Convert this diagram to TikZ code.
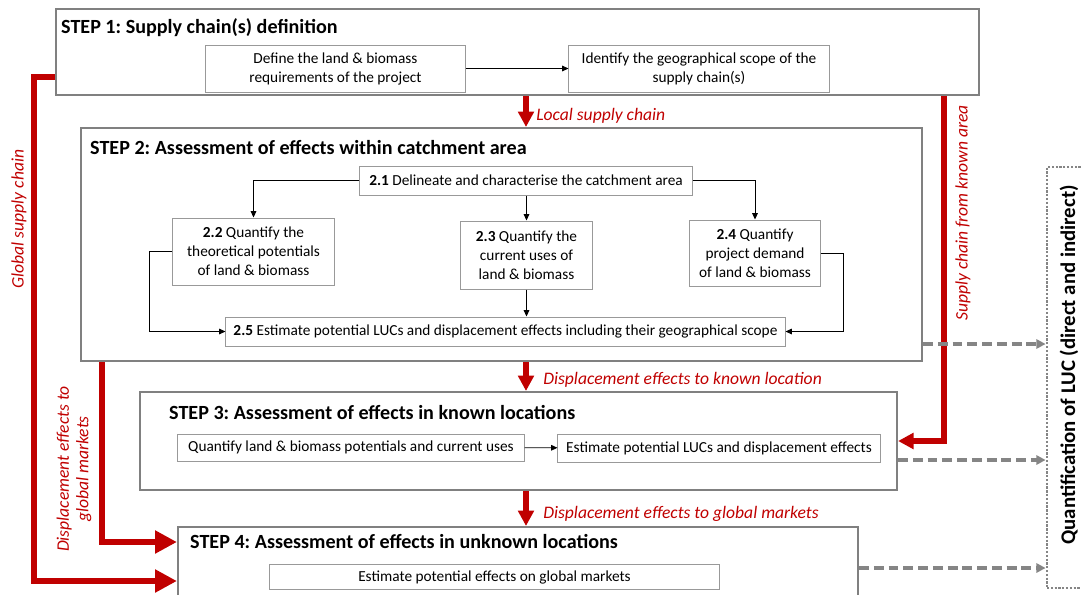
\documentclass[tikz,border=0pt]{standalone}
\usepackage{fontspec}
\setmainfont{Carlito}
\usetikzlibrary{arrows.meta,positioning}

\definecolor{lucred}{HTML}{C00000}
\colorlet{frame}{black!50}
\colorlet{dashgrey}{black!48}

\tikzset{
  stepbox/.style={draw=frame, line width=1.4pt, inner sep=0pt},
  steptitle/.style={anchor=west, inner sep=0pt, font=\fontsize{14.3}{16}\selectfont\bfseries},
  taskbox/.style={draw=black!40, line width=0.7pt, align=center, inner sep=1pt,
    font=\fontsize{10.9}{13.5}\selectfont},
  flow/.style={draw=black, line width=0.6pt, -{Triangle[length=4.5pt,width=4pt]}},
  bigdown/.style={draw=lucred, line width=4.2pt, -{Triangle[length=11pt,width=11pt]}},
  bigside/.style={draw=lucred, line width=4.2pt, -{Triangle[length=15.5pt,width=15.5pt]}},
  redlabel/.style={text=lucred, inner sep=0pt, font=\fontsize{12.5}{14}\selectfont\itshape},
  toluc/.style={draw=dashgrey, line width=2.5pt, dash pattern=on 7pt off 3.5pt,
    -{Triangle[length=6.5pt,width=6.5pt]}},
}

\begin{document}
\frenchspacing
\begin{tikzpicture}[x=0.025cm, y=-0.025cm]
  \useasboundingbox (0,0) rectangle (1081,594);
  \clip (0,0) rectangle (1081,594);

  % step boxes
  \node[stepbox, minimum width=23.075cm, minimum height=2.15cm] (s1) at (517.5,52) {};
  \node[stepbox, minimum width=21.025cm, minimum height=5.825cm] (s2) at (501.5,244.5) {};
  \node[stepbox, minimum width=18.925cm, minimum height=2.45cm] (s3) at (518.5,441) {};
  \node[stepbox, minimum width=17cm, minimum height=2.325cm] (s4) at (518,573.5) {};
  \node[draw=dashgrey, line width=2pt, dash pattern=on 1.6pt off 1.1pt,
    minimum width=1.325cm, minimum height=10.525cm] (quant) at (1073.5,377.5) {};

  \node[steptitle] (t1) at ([shift={(6,20)}]s1.north west) {STEP 1: Supply chain(s) definition};
  \node[steptitle] (t2) at ([shift={(10,21)}]s2.north west) {STEP 2: Assessment of effects within catchment area};
  \node[steptitle] (t3) at ([shift={(30,21)}]s3.north west) {STEP 3: Assessment of effects in known locations};
  \node[steptitle] (t4) at ([shift={(13,15)}]s4.north west) {STEP 4: Assessment of effects in unknown locations};
  \node[rotate=90, inner sep=0pt, font=\fontsize{14.8}{16}\selectfont\bfseries] (qtext) at (1069,365)
    {Quantification of LUC (direct and indirect)};

  % step 1
  \node[taskbox, minimum width=6.475cm, minimum height=1.175cm] (define) at (335.5,68.5)
    {Define the land \& biomass\\requirements of the project};
  \node[taskbox, minimum width=6.5cm, minimum height=1.175cm] (scope) at (699,68.5)
    {Identify the geographical scope of the\\supply chain(s)};
  \draw[flow] (define) -- (scope);

  % step 2
  \node[taskbox, minimum width=8.3cm, minimum height=0.725cm] (d21) at (526,180.5)
    {\textbf{2.1} Delineate and characterise the catchment area};
  \node[taskbox, minimum width=4.025cm, minimum height=1.675cm] (d22) at (253.5,251.5)
    {\textbf{2.2} Quantify the\\theoretical potentials\\of land \& biomass};
  \node[taskbox, minimum width=3.275cm, minimum height=1.7cm] (d23) at (526.5,255)
    {\textbf{2.3} Quantify the\\current uses of\\land \& biomass};
  \node[taskbox, minimum width=3.25cm, minimum height=1.65cm] (d24) at (755,253)
    {\textbf{2.4} Quantify\\project demand\\of land \& biomass};
  \node[taskbox, minimum width=13.975cm, minimum height=0.725cm] (d25) at (505.5,331.5)
    {\textbf{2.5} Estimate potential LUCs and displacement effects including their geographical scope};
  \draw[flow] (d21.west) -| (d22.north);
  \draw[flow] (d21.south -| d23) -- (d23.north);
  \draw[flow] (d21.east) -| (d24.north);
  \draw[flow] (d23.south) -- (d23.south |- d25.north);
  \draw[flow] (d22.west) -- ++(-23,0) |- (d25.west);
  \draw[flow] (d24.east) -- ++(23,0) |- (d25.east);

  % step 3
  \node[taskbox, minimum width=8.65cm, minimum height=0.675cm] (known1) at (351,447.5)
    {Quantify land \& biomass potentials and current uses};
  \node[taskbox, minimum width=8.05cm, minimum height=0.7cm] (known2) at (719,448)
    {Estimate potential LUCs and displacement effects};
  \draw[flow] (known1) -- (known2);

  % step 4
  \node[taskbox, minimum width=11.225cm, minimum height=0.625cm] (market) at (494.5,577)
    {Estimate potential effects on global markets};

  % red flows between steps
  \draw[bigdown] (s1.south -| d21) -- (s2.north -| d21);
  \draw[bigdown] (s2.south -| d21) -- (s3.north -| d21);
  \draw[bigdown] (s3.south -| d21) -- (s4.north -| d21);
  \draw[bigside] (s1.west |- 0,77) -| (34,581) -- (s4.west |- 0,581);
  \draw[bigside] (102,0 |- s2.south) |- (s4.west |- 0,542);
  \draw[bigdown] (944,0 |- s1.south) |- (s3.east |- 0,441);

  \node[redlabel, anchor=west] (llocal) at (536,116) {Local supply chain};
  \node[redlabel, anchor=west] (lknown) at (543,380) {Displacement effects to known location};
  \node[redlabel, anchor=west] (lmarket) at (543,514) {Displacement effects to global markets};
  \node[redlabel, rotate=90] (larea) at (963,213) {Supply chain from known area};
  \node[redlabel, rotate=90] (lglobal) at (19,219) {Global supply chain};
  \node[redlabel, rotate=90, align=center] (ldisp) at (74,469) {Displacement effects to\\global markets};

  % towards quantification
  \draw[toluc] (s2.east |- 0,344) -- (quant.west |- 0,344);
  \draw[toluc] (s3.east |- 0,460) -- (quant.west |- 0,460);
  \draw[toluc] (s4.east |- 0,568) -- (quant.west |- 0,568);
\end{tikzpicture}
\end{document}
